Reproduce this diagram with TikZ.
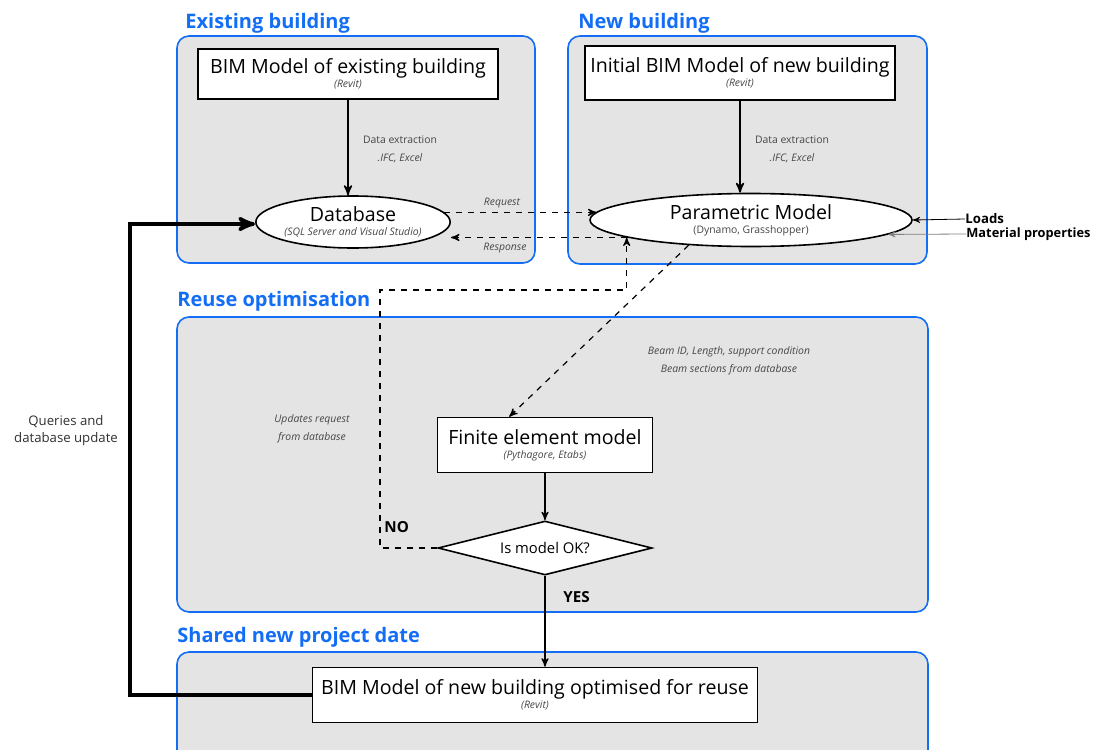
\documentclass[tikz,border=0pt]{standalone}
\usepackage{fontspec}
\setmainfont{Open Sans}
\usetikzlibrary{arrows}
\usetikzlibrary{shapes}
\usetikzlibrary{calc}
\definecolor{titleblue}{RGB}{20,110,245}
\definecolor{panelgrey}{RGB}{228,228,228}
\definecolor{notegrey}{RGB}{70,70,70}
\newcommand{\toolname}[1]{\\[-4pt]{\fontsize{5.2}{6}\selectfont\itshape\color{notegrey}#1}}

\begin{document}
\begin{tikzpicture}[x=0.5pt,y=-0.5pt,>=stealth']
                    \tikzset{panel/.style={draw=titleblue,thick,fill=panelgrey,rounded corners=6pt}}
                    \tikzset{paneltitle/.style={anchor=base west,inner sep=0pt,text=titleblue,font=\fontsize{10}{11}\selectfont\bfseries}}
                    \tikzset{mainbox/.style={draw,thick,fill=white,inner sep=0pt,align=center,font=\fontsize{9.8}{11}\selectfont}}
                    \tikzset{note/.style={inner sep=0pt,align=center,text=notegrey,font=\fontsize{5.2}{9}\selectfont\itshape}}
                    \tikzset{flow/.style={->,thick}}
                    \tikzset{dflow/.style={->,semithick,dashed}}
                    \useasboundingbox (0,0) rectangle (1101,749);
                    \draw[panel] (177,36) rectangle (535,263);
                    \draw[panel] (568,36) rectangle (927,264);
                    \draw[panel] (177,317) rectangle (928,612);
                    \draw[panel] (177,652) rectangle (928,780);
                    \draw (185,29) node[paneltitle,name=existtitle] {Existing building};
                    \draw (578,29) node[paneltitle,name=newtitle] {New building};
                    \draw (177,306) node[paneltitle,name=reusetitle] {Reuse optimisation};
                    \draw (177,642) node[paneltitle,name=sharedtitle] {Shared new project date};
                    \draw (348,74) node[mainbox,minimum width=150pt,minimum height=25pt,name=bimold] {BIM Model of existing building\toolname{(Revit)}};
                    \draw (740,73) node[mainbox,minimum width=155pt,minimum height=27pt,name=bimnew] {Initial BIM Model of new building\toolname{(Revit)}};
                    \draw (353,222) node[mainbox,ellipse,minimum width=90pt,minimum height=26pt,name=db] {Database\toolname{(SQL Server and Visual Studio)}};
                    \draw (751,220) node[mainbox,ellipse,minimum width=161pt,minimum height=26.5pt,name=param] {Parametric Model\\[-4pt]{\fontsize{5.2}{6}\selectfont\color{notegrey}(Dynamo, Grasshopper)}};
                    \draw (545,445) node[mainbox,minimum width=107.5pt,minimum height=27.5pt,name=fem] {Finite element model\toolname{(Pythagore, Etabs)}};
                    \draw (545,548) node[mainbox,diamond,aspect=4,minimum width=107pt,minimum height=27pt,font=\fontsize{7.4}{9}\selectfont,name=check] {Is model OK?};
                    \draw (535,695) node[mainbox,minimum width=222.5pt,minimum height=27.5pt,name=out] {BIM Model of new building optimised for reuse\toolname{(Revit)}};
                    \draw (965,219) node[anchor=west,inner sep=0pt,font=\fontsize{6.6}{8}\selectfont\bfseries,name=loads] {Loads};
                    \draw (966,234) node[anchor=west,inner sep=0pt,font=\fontsize{6.4}{8}\selectfont\bfseries,name=matp] {Material properties};
                    \coordinate (loopl) at (380,290);
                    \coordinate (fb) at (130,224);
                    \draw[flow] (bimold.south) -- (bimold.south |- db.north);
                    \draw[flow] (bimnew.south) -- (bimnew.south |- param.north);
                    \draw (400,149) node[note,name=extrold] {{\upshape Data extraction}\\.IFC, Excel};
                    \draw (792,149) node[note,name=extrnew] {{\upshape Data extraction}\\.IFC, Excel};
                    \draw[dflow] (db.6) -- (db.6 -| param.177);
                    \draw[dflow] (param.188) -- (param.188 -| db.east);
                    \draw (502,203) node[note,name=req] {Request};
                    \draw (505,248) node[note,name=resp] {Response};
                    \draw[->] (loads.west) -- (param.east);
                    \draw[->,gray] (matp.west) -- (param.354);
                    \draw[dflow] (param.202) -- ($(fem.north)!0.33!(fem.north west)$);
                    \draw (729,361) node[note,name=beam] {Beam ID, Length, support condition\\Beam sections from database};
                    \draw[dflow] (check.west) -| (loopl) -| (param.188);
                    \draw (312,429) node[note,name=upd] {Updates request\\from database};
                    \draw (384,527) node[anchor=west,inner sep=0pt,font=\fontsize{7.6}{9}\selectfont\bfseries,name=no] {NO};
                    \draw[->,semithick] (fem.south) -- (check.north);
                    \draw[->,semithick] (check.south) -- (check.south |- out.north);
                    \draw (563,597) node[anchor=west,inner sep=0pt,font=\fontsize{7.6}{9}\selectfont\bfseries,name=yes] {YES};
                    \draw[->,line width=1.8pt] (out.west) -| (fb) -- (fb -| db.west);
                    \draw (66,431) node[inner sep=0pt,align=center,text=notegrey!70!black,font=\fontsize{6.6}{8.5}\selectfont,name=query] {Queries and\\database update};
                \end{tikzpicture}
\end{document}
